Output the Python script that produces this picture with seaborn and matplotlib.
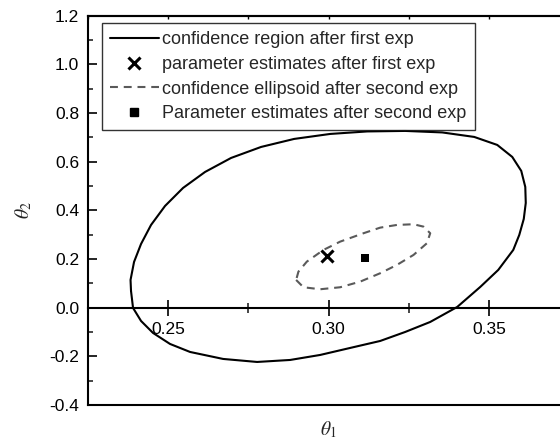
import numpy as np
import pandas as pd
import matplotlib
matplotlib.use("Agg")
import matplotlib.pyplot as plt
from matplotlib.ticker import MultipleLocator, FormatStrFormatter
from matplotlib.lines import Line2D
import seaborn as sns

# Boundary of the confidence region after the first experiment (theta1, theta2)
region1_theta1 = [0.23854, 0.23917, 0.24166, 0.24539, 0.25068, 0.25691, 0.26719,
                  0.27777, 0.28804, 0.29739, 0.30672, 0.31607, 0.32385, 0.33163,
                  0.34004, 0.34720, 0.35280, 0.35747, 0.35934, 0.36074, 0.36136,
                  0.36121, 0.35996, 0.35716, 0.35249, 0.34533, 0.33537, 0.32385,
                  0.31202, 0.30050, 0.28929, 0.27902, 0.26968, 0.26158, 0.25473,
                  0.24913, 0.24477, 0.24166, 0.23948, 0.23839]
region1_theta2 = [0.0686, -0.0012, -0.0547, -0.1040, -0.1492, -0.1821, -0.2108,
                  -0.2232, -0.2150, -0.1944, -0.1656, -0.1369, -0.0999, -0.0588,
                  0.0029, 0.0851, 0.1550, 0.2372, 0.2988, 0.3646, 0.4303,
                  0.4961, 0.5619, 0.6194, 0.6687, 0.7016, 0.7201, 0.7263,
                  0.7242, 0.7139, 0.6934, 0.6605, 0.6153, 0.5577, 0.4920,
                  0.4180, 0.3399, 0.2618, 0.1878, 0.1139]

# Boundary of the confidence ellipsoid after the second experiment
region2_theta1 = [0.28991, 0.29219, 0.29739, 0.30361, 0.30984, 0.31606, 0.32126,
                  0.32643, 0.33060, 0.33163, 0.32955, 0.32643, 0.32126, 0.31606,
                  0.31087, 0.30361, 0.29841, 0.29324, 0.29063]
region2_theta2 = [0.1139, 0.0838, 0.0756, 0.0838, 0.1069, 0.1414, 0.1755,
                  0.2166, 0.2647, 0.3058, 0.3329, 0.3428, 0.3399, 0.3288,
                  0.3058, 0.2713, 0.2372, 0.1891, 0.1480]

# Parameter estimates
est1_theta1, est1_theta2 = [0.2995], [0.212]
est2_theta1, est2_theta2 = [0.3114], [0.203]

labels = ["confidence region after first exp",
          "parameter estimates after first exp",
          "confidence ellipsoid after second exp",
          "Parameter estimates after second exp"]

sns.set_theme(style="white")
plt.rcParams["font.family"] = ["Liberation Sans", "DejaVu Sans"]
plt.rcParams["axes.unicode_minus"] = False
plt.rcParams["mathtext.fontset"] = "stix"

fig = plt.figure(figsize=(5.6, 4.4), dpi=100)
ax = fig.add_axes([0.15625, 0.0796, 0.8609, 0.8848])


def closed(xs, ys):
    return pd.DataFrame({"t1": list(xs) + [xs[0]], "t2": list(ys) + [ys[0]]})


dash = (0, (3.8, 2.8))
sns.lineplot(data=closed(region1_theta1, region1_theta2), x="t1", y="t2",
             sort=False, estimator=None, color="black", lw=1.5, ax=ax)
sns.lineplot(data=closed(region2_theta1, region2_theta2), x="t1", y="t2",
             sort=False, estimator=None, color="#5a5a5a", lw=1.5,
             linestyle=dash, ax=ax)
sns.scatterplot(x=est1_theta1, y=est1_theta2, marker="x", s=75, color="black",
                linewidth=2.2, ax=ax, zorder=5)
sns.scatterplot(x=est2_theta1, y=est2_theta2, marker="s", s=40, color="black",
                linewidth=0, ax=ax, zorder=5)

ax.set_xlim(0.225, 0.375)
ax.set_ylim(-0.4, 1.2)

# x axis crosses at theta2 = 0
for side in ["top", "left", "bottom", "right"]:
    ax.spines[side].set_color("black")
    ax.spines[side].set_linewidth(1.5)
ax.spines["bottom"].set_position(("data", 0))
ax.spines["right"].set_visible(False)

ax.xaxis.set_major_locator(MultipleLocator(0.05))
ax.xaxis.set_minor_locator(MultipleLocator(0.025))
ax.xaxis.set_major_formatter(FormatStrFormatter("%.2f"))
ax.yaxis.set_major_locator(MultipleLocator(0.2))
ax.yaxis.set_minor_locator(MultipleLocator(0.1))
ax.yaxis.set_major_formatter(FormatStrFormatter("%.1f"))

ax.tick_params(axis="x", which="major", direction="inout", length=11, width=1.2,
               pad=4.5, labelsize=12.5, colors="black", bottom=True, top=False)
ax.tick_params(axis="x", which="minor", direction="inout", length=6.5, width=1.2,
               bottom=True, top=False)
ax.tick_params(axis="y", which="major", direction="in", length=6.5, width=1.2,
               pad=6, labelsize=12.5, colors="black", left=True, right=False)
ax.tick_params(axis="y", which="minor", direction="in", length=3.5, width=1.2,
               left=True, right=False)

# frame edge at the bottom of the plot area
bottom_frame = ax.secondary_xaxis("bottom")
bottom_frame.set_xticks([])
bottom_frame.spines["bottom"].set_linewidth(1.5)
bottom_frame.spines["bottom"].set_color("black")

# small inward ticks along the top edge
top_frame = ax.secondary_xaxis("top")
top_frame.xaxis.set_major_locator(MultipleLocator(0.025))
top_frame.tick_params(direction="in", length=2.5, width=1.0, labeltop=False,
                      colors="black")
top_frame.spines["top"].set_linewidth(1.5)

ax.set_xlabel(r"$\theta_{\mathit{1}}$", fontsize=14)
ax.set_ylabel(r"$\theta_{\mathit{2}}$", fontsize=14)
ax.xaxis.set_label_coords(0.5, -0.038)
ax.yaxis.set_label_coords(-0.11, 0.5)

handles = [
    Line2D([], [], color="black", lw=1.5),
    Line2D([], [], color="black", marker="x", ms=8.5, mew=2.2, lw=0),
    Line2D([], [], color="#5a5a5a", lw=1.5, linestyle=dash),
    Line2D([], [], color="black", marker="s", ms=6.3, lw=0),
]
leg = ax.legend(handles, labels, loc="upper left", bbox_to_anchor=(0.0295, 0.9805),
                borderaxespad=0, fontsize=13, frameon=True, fancybox=False,
                handlelength=2.7, handletextpad=0.2, labelspacing=0.42,
                borderpad=0.45)
leg.get_frame().set_edgecolor("black")
leg.get_frame().set_linewidth(1.0)
leg.get_frame().set_facecolor("white")

fig.savefig("out.png", dpi=100)
